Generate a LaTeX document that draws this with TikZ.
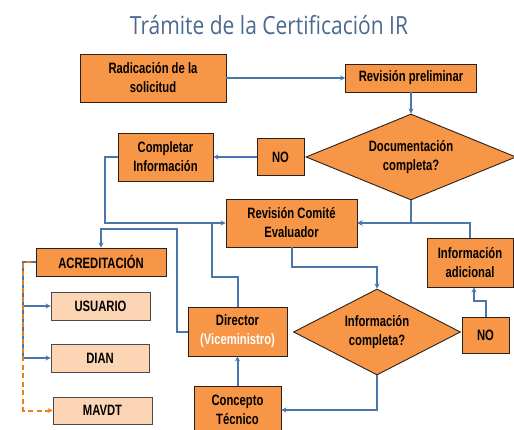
\documentclass[tikz,border=0pt]{standalone}
\usepackage{fontspec}
\setmainfont{Liberation Sans}[FakeStretch=0.75]
\newfontfamily\titlefont{Open Sans}[FakeStretch=0.84]
\usetikzlibrary{arrows.meta,shapes.geometric,calc}
\definecolor{boxor}{HTML}{F79646}
\definecolor{lightor}{HTML}{FCD5B4}
\definecolor{linebl}{HTML}{4A76AC}
\definecolor{titlebl}{HTML}{4B6A8F}
\definecolor{dashor}{HTML}{E8801E}
\definecolor{edgec}{HTML}{2B2118}
\definecolor{lightedge}{HTML}{4A4A4A}
\begin{document}
\begin{tikzpicture}[x=1pt,y=-1pt,
  box/.style={draw=edgec,line width=0.9pt,fill=boxor,inner sep=0pt,align=center,
    font=\fontsize{15}{19}\selectfont\bfseries,minimum width=#1},
  lbox/.style={box=#1,fill=lightor,draw=lightedge,minimum height=28pt},
  dia/.style={diamond,draw=edgec,line width=0.9pt,fill=boxor,inner sep=0pt,aspect=2.4,align=center,
    font=\fontsize{15}{19}\selectfont\bfseries},
  conn/.style={draw=linebl,line width=2pt},
  arr/.style={conn,-{Stealth[length=5pt,width=5pt]}},
  darr/.style={draw=dashor,line width=2pt,dash pattern=on 5pt off 3.5pt,-{Stealth[length=5pt,width=5pt]}}]
\useasboundingbox (0,0) rectangle (514,430);
\fill[white] (0,0) rectangle (514,430);

\node[font=\titlefont\fontsize{25}{30}\selectfont,text=titlebl,anchor=base] (title) at (269,35) {Trámite de la Certificación IR};

\node[box=146pt,minimum height=48pt] (rad) at (153,78) {Radicación de la\\solicitud};
\node[box=131pt,minimum height=28pt] (rp) at (411,78) {Revisión preliminar};
\node[dia,minimum width=210pt,minimum height=86pt] (doc) at (411,157) {Documentación\\completa?};
\node[box=47pt,minimum height=37pt] (no1) at (280.5,157) {NO};
\node[box=95pt,minimum height=48pt] (comp) at (165.5,157) {Completar\\Información};
\node[box=131pt,minimum height=48pt] (rce) at (291.5,223) {Revisión Comité\\Evaluador};
\node[box=86pt,minimum height=49pt] (ia) at (470,262.5) {Información\\adicional};
\node[box=47pt,minimum height=36pt] (no2) at (485.5,335) {NO};
\node[dia,minimum width=167pt,minimum height=86pt] (ic) at (377,332) {Información\\completa?};
\node[box=99pt,minimum height=49pt] (dir) at (237.5,331.5) {Director\\\textcolor{white}{(Viceministro)}};
\node[box=87pt,minimum height=48pt] (ct) at (237.5,410) {Concepto\\Técnico};
\node[box=130pt,minimum height=28pt] (acr) at (101,262) {ACREDITACIÓN};
\node[lbox=99pt] (usu) at (100.5,306) {USUARIO};
\node[lbox=98pt] (dian) at (100,358) {DIAN};
\node[lbox=99pt,minimum height=27pt] (mav) at (102.5,410.5) {MAVDT};

\coordinate (k1) at (474,301);
\coordinate (k2) at (177,229);
\coordinate (k3) at (23,262);

\draw[arr] (rad.east) -- (rad.east -| rp.west);
\draw[arr] (rp) -- (doc);
\draw[arr] (no1) -- (comp);
\draw[arr] (comp.west) -- ++(-13,0) |- (rce.west);
\draw[arr] (doc.south) |- (rce.east);
\draw[arr] (ia.north) |- (rce.east);
\draw[arr] (no2.north) |- (k1) -- (k1 |- ia.south);
\draw[arr] (rce.south) -- ++(0,20) -| (ic.north);
\draw[arr] (ic.south) |- (ct.east);
\draw[arr] (ct) -- (dir);
\draw[conn] (dir.north) -- ++(0,-30) -| ($(rce.west)+(-14,0)$);
\draw[arr] (dir.west) -| (k2) -| (acr.north);
\draw[conn] (acr.west) -- (k3) -- (k3 |- dian.west);
\draw[arr] (k3 |- usu.west) -- (usu.west);
\draw[arr] (k3 |- dian.west) -- (dian.west);
\draw[darr] ($(acr.west)+(-5,0)$) -- (k3) -- (k3 |- mav.west) -- (mav.west);
\end{tikzpicture}
\end{document}
